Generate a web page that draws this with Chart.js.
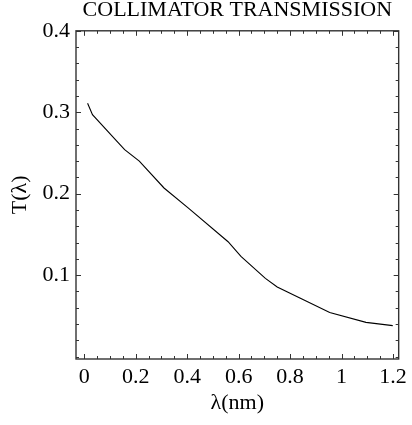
<!DOCTYPE html>
<html>
<head>
<meta charset="utf-8">
<script src="https://cdn.jsdelivr.net/npm/chart.js@4.4.1/dist/chart.umd.min.js"></script>
<style>
  html, body { margin: 0; padding: 0; background: #fff; }
  #wrap { width: 412px; height: 425px; position: relative; }
  #probe { position: absolute; left: -9999px; top: 0; font: 22px 'Liberation Serif'; }
</style>
</head>
<body>
<div id="probe">COLLIMATOR λ 0.1234</div>
<div id="wrap"><canvas id="c" width="412" height="425"></canvas></div>
<script>
const chartTitle = 'COLLIMATOR TRANSMISSION';
const xAxisTitle = 'λ(nm)';
const yAxisTitle = 'T(λ)';
const wavelength = [0.013, 0.032, 0.122, 0.157, 0.214, 0.310, 0.406, 0.559, 0.609, 0.704, 0.750, 0.838, 0.954, 1.095, 1.199];
const transmission = [0.311, 0.297, 0.266, 0.254, 0.240, 0.207, 0.182, 0.141, 0.123, 0.096, 0.0855, 0.072, 0.054, 0.042, 0.038];
const xTickValues = [0, 0.2, 0.4, 0.6, 0.8, 1, 1.2];
const yTickValues = [0.1, 0.2, 0.3, 0.4];
const xMinorStep = 0.05;
const yMinorStep = 0.02;

const FONT = "'Liberation Serif', 'Times New Roman', serif";
const FRAME = '#333';

const framePlugin = {
  id: 'frameTicks',
  afterDraw(chart) {
    const {ctx, chartArea: a, scales: {x, y}} = chart;
    ctx.save();
    ctx.strokeStyle = FRAME;
    ctx.lineWidth = 1;
    const xs = [];
    for (let v = 0; v <= 1.2 + 1e-9; v += xMinorStep) xs.push(+v.toFixed(3));
    xs.forEach(v => {
      const major = xTickValues.some(t => Math.abs(t - v) < 1e-6);
      const len = major ? 5 : 3;
      const px = Math.round(x.getPixelForValue(v)) + 0.5;
      ctx.beginPath();
      ctx.moveTo(px, a.bottom); ctx.lineTo(px, a.bottom - len);
      ctx.moveTo(px, a.top); ctx.lineTo(px, a.top + len);
      ctx.stroke();
    });
    const ys = [];
    for (let v = 0; v <= 0.4 + 1e-9; v += yMinorStep) ys.push(+v.toFixed(3));
    ys.forEach(v => {
      const major = yTickValues.some(t => Math.abs(t - v) < 1e-6);
      const len = major ? 5 : 3;
      const py = Math.round(y.getPixelForValue(v)) + 0.5;
      ctx.beginPath();
      ctx.moveTo(a.left, py); ctx.lineTo(a.left + len, py);
      ctx.moveTo(a.right, py); ctx.lineTo(a.right - len, py);
      ctx.stroke();
    });
    ctx.lineWidth = 1.4;
    ctx.strokeRect(a.left, a.top, a.right - a.left, a.bottom - a.top);
    ctx.restore();
  }
};

function build() {
  new Chart(document.getElementById('c'), {
    type: 'scatter',
    data: {
      datasets: [{
        data: wavelength.map((w, i) => ({x: w, y: transmission[i]})),
        showLine: true,
        borderColor: '#000',
        borderWidth: 1.1,
        pointRadius: 0,
        tension: 0,
        fill: false
      }]
    },
    options: {
      responsive: false,
      animation: false,
      layout: { padding: { left: 0, right: 9, top: 0, bottom: 0 } },
      plugins: {
        legend: { display: false },
        tooltip: { enabled: false },
        title: {
          display: true,
          text: chartTitle,
          fullSize: false,
          color: '#000',
          font: { family: FONT, size: 22, weight: 'normal', lineHeight: 0.9 },
          padding: { top: 0, bottom: 11 }
        }
      },
      scales: {
        x: {
          type: 'linear',
          min: -0.032,
          max: 1.222,
          afterBuildTicks: s => { s.ticks = xTickValues.map(v => ({value: v})); },
          afterFit: s => { s.height = 66; },
          grid: { display: false, drawTicks: false },
          border: { display: false },
          ticks: {
            color: '#000',
            padding: 5,
            maxRotation: 0,
            autoSkip: false,
            font: { family: FONT, size: 22 },
            callback: v => String(v)
          },
          title: {
            display: true,
            text: xAxisTitle,
            color: '#000',
            font: { family: FONT, size: 22 },
            padding: { top: 0, bottom: 9 }
          }
        },
        y: {
          type: 'linear',
          min: -0.003,
          max: 0.4,
          afterBuildTicks: s => { s.ticks = yTickValues.map(v => ({value: v})); },
          afterFit: s => { s.width = 76; },
          grid: { display: false, drawTicks: false },
          border: { display: false },
          ticks: {
            color: '#000',
            padding: 6,
            autoSkip: false,
            font: { family: FONT, size: 22 },
            callback: v => String(v)
          },
          title: {
            display: true,
            text: yAxisTitle,
            color: '#000',
            font: { family: FONT, size: 22 },
            padding: { top: 7.5, bottom: 0 }
          }
        }
      }
    },
    plugins: [framePlugin]
  });
}

if (document.fonts && document.fonts.load) {
  Promise.all([
    document.fonts.load("22px 'Liberation Serif'"),
    document.fonts.load("22px 'Liberation Serif'", 'λ')
  ]).then(build, build);
} else {
  build();
}
</script>
</body>
</html>
